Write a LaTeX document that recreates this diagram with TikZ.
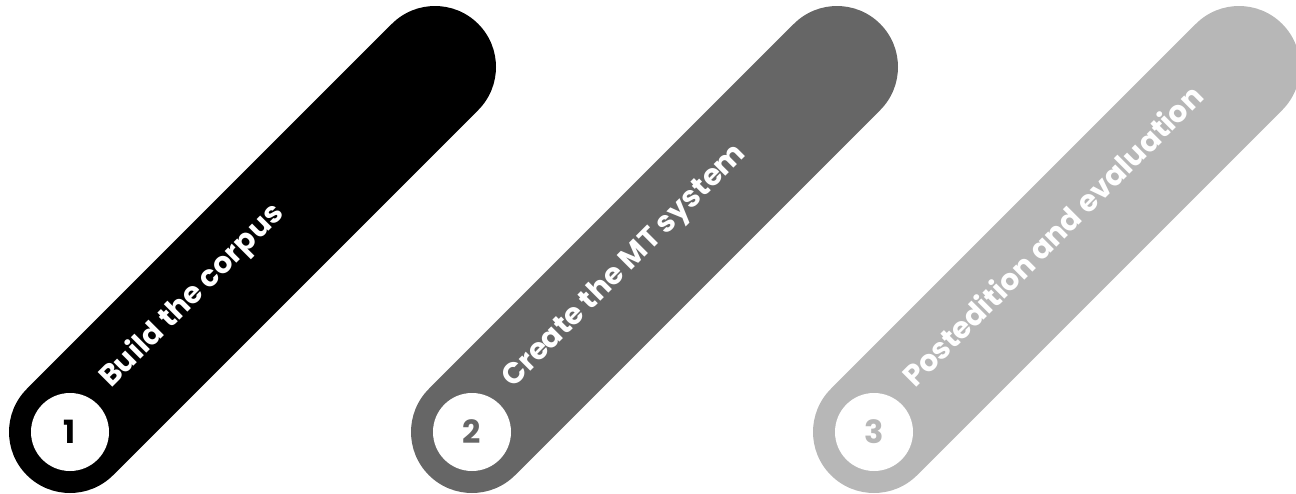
\documentclass[tikz,border=0pt]{standalone}
\usepackage{fontspec}
\setmainfont{Poppins}
\usetikzlibrary{calc}
\definecolor{cA}{HTML}{000000}
\definecolor{cB}{HTML}{666666}
\definecolor{cC}{HTML}{B7B7B7}
\begin{document}
\begin{tikzpicture}[x=1pt,y=-1pt,
  bar/.style={line width=122pt,line cap=round},
  numdisc/.style={circle,fill=white,minimum size=78pt,inner sep=0pt,font=\fontsize{32}{34}\selectfont\bfseries},
  steplabel/.style={rotate=45,anchor=base west,inner sep=0pt,text=white,font=\fontsize{29.6}{31}\selectfont\bfseries}]
\useasboundingbox (0,0) rectangle (1296,493);
\foreach \i/\cx/\col/\txt in {1/70/cA/Build the corpus,2/472/cB/Create the MT system,3/874/cC/Postedition and evaluation}{
  \coordinate (s\i) at (\cx,432);
  \coordinate (e\i) at ($(s\i)+(365,-365)$);
  \draw[bar,\col] (s\i) -- (e\i);
  \node[numdisc,text=\col] (n\i) at (s\i) {\i};
  \node[steplabel] (t\i) at ($(s\i)+(41,-43)$) {\txt};
}
\end{tikzpicture}
\end{document}
